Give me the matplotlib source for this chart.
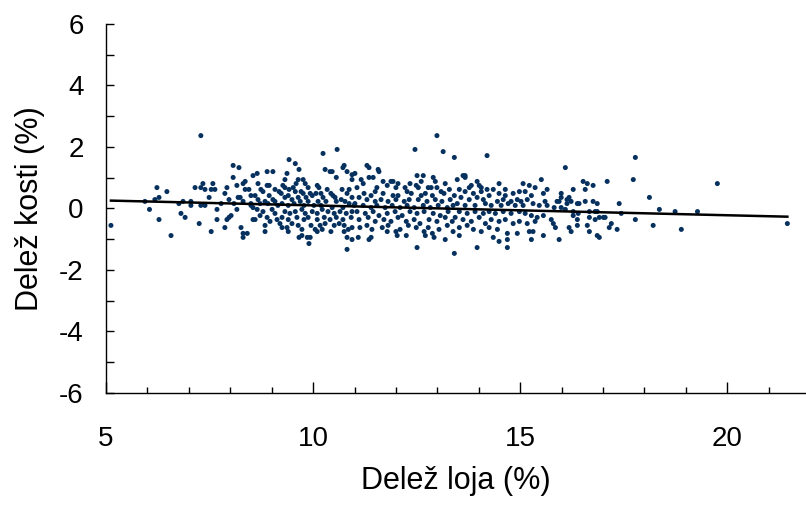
import numpy as np
import matplotlib
matplotlib.use('Agg')
import matplotlib.pyplot as plt
from matplotlib.ticker import MultipleLocator

# meritve: (delez loja %, delez kosti %) po razponih loja
tocke_5_9 = [
    (5.12, -0.55), (7.29, 2.37), (5.94, 0.23), (6.05, -0.03), (6.23, 0.68), (6.28, 0.36),
    (6.18, 0.29), (6.28, -0.36), (6.47, 0.55), (6.57, -0.88), (6.76, 0.16), (6.86, 0.23),
    (6.81, -0.16), (6.91, -0.29), (7.05, 0.23), (7.05, 0.10), (7.15, 0.68), (7.29, 0.68),
    (7.34, 0.81), (7.39, 0.62), (7.29, 0.10), (7.39, 0.10), (7.25, -0.49), (7.49, 0.36),
    (7.54, 0.62), (7.58, 0.81), (7.63, 0.62), (7.54, -0.75), (7.68, -0.03), (7.68, -0.36),
    (7.78, 0.16), (7.87, 0.49), (7.92, 0.68), (7.97, 0.29), (7.87, -0.62), (7.92, -0.36),
    (7.97, -0.29), (8.02, -0.23), (8.07, 1.40), (8.07, 1.01), (8.21, 1.33), (8.16, 0.75),
    (8.09, 0.16), (8.19, 0.36), (8.24, 0.36), (8.16, -0.03), (8.26, -0.62), (8.31, -0.81),
    (8.31, -0.94), (8.41, -0.81), (8.31, 0.81), (8.36, 0.88), (8.31, 0.23), (8.36, 0.62),
    (8.45, 0.62), (8.55, 1.07), (8.50, 0.42), (8.50, 0.16), (8.55, 0.03), (8.55, -0.36),
    (8.50, 0.10),
]
tocke_9_11 = [
    (10.58, 1.92), (10.24, 1.79), (9.42, 1.59), (9.57, 1.46), (10.75, 1.40), (10.72, 1.33),
    (10.82, 1.20), (10.29, 1.27), (10.41, 1.20), (10.46, 1.20), (10.94, 1.10), (8.65, 1.14),
    (8.89, 1.20), (9.03, 1.20), (9.37, 1.14), (9.66, 1.27), (9.32, 0.94), (9.64, 0.94),
    (9.76, 0.94), (9.81, 0.81), (10.56, 1.01), (10.94, 0.94), (8.67, 0.81), (8.89, 0.75),
    (8.94, 0.75), (9.27, 0.75), (9.32, 0.68), (9.52, 0.68), (9.59, 0.81), (9.88, 0.68),
    (10.10, 0.75), (10.14, 0.68), (10.34, 0.62), (8.74, 0.62), (8.79, 0.55), (9.08, 0.62),
    (9.18, 0.55), (9.23, 0.49), (9.42, 0.62), (9.57, 0.55), (9.71, 0.55), (9.76, 0.49),
    (9.93, 0.49), (9.98, 0.42), (10.07, 0.49), (10.19, 0.49), (10.43, 0.49), (10.48, 0.42),
    (10.53, 0.36), (10.70, 0.62), (10.82, 0.49), (10.87, 0.62), (10.94, 0.36), (8.60, 0.42),
    (8.67, 0.29), (8.94, 0.42), (9.03, 0.29), (9.08, 0.23), (9.32, 0.36), (9.40, 0.42),
    (9.49, 0.29), (9.64, 0.36), (9.69, 0.23), (9.83, 0.36), (9.88, 0.23), (10.12, 0.23),
    (10.24, 0.36), (10.31, 0.23), (10.56, 0.23), (10.68, 0.29), (10.77, 0.23), (10.87, 0.16),
    (8.72, 0.16), (8.84, 0.23), (8.91, 0.16), (9.15, 0.10), (9.25, 0.16), (9.40, 0.10),
    (9.54, 0.16), (9.78, 0.10), (10.02, 0.10), (10.19, 0.10), (10.46, 0.03), (10.72, 0.03),
    (10.99, 0.10),
    (8.65, -0.03), (8.79, -0.10), (9.01, -0.03), (9.08, -0.16), (9.32, -0.10), (9.44, -0.16),
    (9.57, -0.10), (9.73, -0.03), (9.81, -0.16), (9.98, -0.10), (10.10, -0.16), (10.22, -0.03),
    (10.36, -0.10), (10.51, -0.16), (10.65, -0.10), (10.80, -0.16), (10.94, -0.10), (8.72, -0.23),
    (8.89, -0.29), (9.13, -0.36), (9.25, -0.29), (9.40, -0.36), (9.61, -0.29), (9.78, -0.36),
    (9.88, -0.29), (10.10, -0.36), (10.27, -0.29), (10.41, -0.36), (10.56, -0.29), (10.72, -0.36),
    (10.92, -0.29), (8.60, -0.36), (8.84, -0.55), (8.96, -0.42), (9.20, -0.49), (9.25, -0.62),
    (9.37, -0.62), (9.49, -0.49), (9.64, -0.55), (9.73, -0.68), (9.95, -0.55), (10.05, -0.68),
    (10.17, -0.55), (10.29, -0.49), (10.51, -0.55), (10.63, -0.49), (10.75, -0.55), (10.85, -0.68),
    (10.94, -0.62), (8.84, -0.75), (9.40, -0.75), (9.66, -0.94), (9.73, -0.88), (9.86, -0.94),
    (9.93, -0.94), (9.90, -1.14), (10.10, -0.75), (10.22, -0.68), (10.43, -0.75), (10.75, -0.75),
    (10.82, -0.94), (10.94, -1.01), (10.82, -1.33),
]
tocke_11_13 = [
    (12.99, 2.37), (12.46, 1.92), (13.14, 1.85), (13.41, 1.66), (11.30, 1.40), (11.35, 1.33),
    (11.57, 1.27), (11.59, 1.20), (11.01, 1.14), (11.35, 1.01), (11.45, 1.01), (12.51, 1.07),
    (12.66, 1.07), (12.90, 1.01), (11.16, 0.94), (11.21, 0.81), (11.69, 0.88), (11.88, 0.88),
    (11.93, 0.88), (12.05, 0.81), (12.34, 0.81), (12.61, 0.88), (12.95, 0.88), (13.19, 0.81),
    (11.06, 0.68), (11.54, 0.68), (11.79, 0.75), (12.00, 0.68), (12.22, 0.68), (12.49, 0.75),
    (12.54, 0.68), (12.78, 0.68), (12.85, 0.68), (12.99, 0.68), (13.09, 0.55), (13.29, 0.62),
    (13.41, 0.42),
    (11.23, 0.49), (11.40, 0.42), (11.50, 0.55), (11.69, 0.49), (11.93, 0.42), (12.05, 0.42),
    (12.27, 0.55), (12.37, 0.49), (12.61, 0.42), (12.71, 0.49), (12.88, 0.42), (13.16, 0.49),
    (11.11, 0.36), (11.30, 0.29), (11.50, 0.23), (11.64, 0.29), (11.81, 0.23), (12.00, 0.29),
    (12.20, 0.23), (12.32, 0.29), (12.54, 0.29), (12.75, 0.23), (12.95, 0.29), (13.11, 0.23),
    (13.31, 0.29),
    (11.01, 0.16), (11.21, 0.10), (11.40, 0.03), (11.54, 0.10), (11.74, 0.03), (11.91, 0.10),
    (12.10, 0.03), (12.27, 0.10), (12.44, 0.03), (12.66, 0.10), (12.83, 0.03), (13.02, 0.10),
    (13.24, 0.03), (13.38, 0.10),
    (11.06, -0.10), (11.26, -0.16), (11.45, -0.10), (11.59, -0.23), (11.79, -0.16), (11.98, -0.10),
    (12.15, -0.23), (12.34, -0.10), (12.51, -0.16), (12.68, -0.10), (12.90, -0.16), (13.07, -0.23),
    (13.26, -0.10), (11.11, -0.36), (11.33, -0.29), (11.50, -0.42), (11.71, -0.36), (11.88, -0.42),
    (12.05, -0.29), (12.25, -0.42), (12.44, -0.36), (12.58, -0.49), (12.80, -0.36), (12.99, -0.42),
    (13.19, -0.29), (13.36, -0.42), (11.13, -0.62), (11.30, -0.55), (11.42, -0.68), (11.67, -0.62),
    (11.81, -0.55), (12.00, -0.75), (12.10, -0.68), (12.30, -0.55), (12.49, -0.62), (12.68, -0.75),
    (12.78, -0.62), (12.88, -0.81), (13.04, -0.68), (13.24, -0.55), (13.38, -0.75), (11.09, -0.94),
    (11.35, -1.01), (11.40, -0.94), (11.79, -0.75), (12.03, -0.88), (12.25, -0.88), (12.71, -0.88),
    (12.92, -0.94), (12.51, -1.27), (13.19, -1.01), (13.41, -1.46),
]
tocke_13_16 = [
    (14.20, 1.72), (13.62, 1.07), (13.67, 1.07), (13.67, 1.01), (13.48, 0.94), (13.82, 0.75),
    (13.77, 0.68), (13.96, 0.88), (14.01, 0.75), (14.06, 0.68), (14.49, 0.81), (14.64, 0.62),
    (15.07, 0.81), (15.22, 0.75), (15.36, 0.68), (15.51, 0.94), (15.65, 0.62), (13.53, 0.62),
    (13.67, 0.55), (13.87, 0.49), (14.06, 0.55), (14.20, 0.62), (14.35, 0.62), (14.49, 0.49),
    (14.64, 0.42), (14.83, 0.49), (14.98, 0.55), (15.12, 0.55), (15.27, 0.42), (15.56, 0.49),
    (13.57, 0.36), (13.77, 0.29), (13.96, 0.36), (14.11, 0.29), (14.25, 0.42), (14.45, 0.23),
    (14.59, 0.29), (14.78, 0.23), (14.93, 0.29), (15.02, 0.23), (15.17, 0.29), (15.31, 0.16),
    (15.60, 0.23), (15.65, 0.10), (15.82, 0.03), (13.48, 0.16), (13.67, 0.10), (13.91, 0.10),
    (14.16, 0.16), (14.30, 0.10), (14.54, 0.10), (14.71, 0.16), (14.88, 0.10), (15.07, 0.10),
    (15.46, 0.10),
    (13.53, -0.10), (13.72, -0.16), (13.91, -0.10), (14.11, -0.16), (14.25, -0.10), (14.40, -0.16),
    (14.59, -0.10), (14.78, -0.16), (14.98, -0.10), (15.12, -0.16), (15.27, -0.23), (15.41, -0.29),
    (15.56, -0.23), (15.75, -0.36), (13.43, -0.29), (13.62, -0.36), (13.82, -0.42), (14.01, -0.29),
    (14.16, -0.49), (14.30, -0.36), (14.49, -0.42), (14.64, -0.36), (14.83, -0.49), (14.98, -0.42),
    (15.17, -0.49), (15.36, -0.42), (15.80, -0.49), (13.53, -0.62), (13.72, -0.55), (13.87, -0.68),
    (14.06, -0.75), (14.25, -0.62), (14.45, -0.68), (14.69, -0.81), (14.93, -0.81), (15.22, -0.75),
    (15.31, -0.75), (15.56, -0.88), (13.53, -0.88), (14.35, -0.94), (14.49, -1.07), (14.69, -1.01),
    (15.27, -1.01), (13.96, -1.27), (14.69, -1.27),
]
tocke_16_22 = [
    (17.78, 1.66), (16.09, 1.33), (17.73, 0.94), (17.10, 0.88), (16.52, 0.88), (16.62, 0.81),
    (16.76, 0.75), (16.57, 0.62), (16.28, 0.62), (15.99, 0.49), (15.99, 0.36), (15.89, 0.23),
    (15.94, 0.23), (16.18, 0.36), (16.13, 0.29), (16.23, 0.23), (16.13, 0.16), (16.38, 0.16),
    (16.42, 0.16), (16.57, 0.23), (16.76, 0.23), (16.86, 0.16), (17.39, 0.16), (18.12, 0.36),
    (15.99, 0.03), (16.09, -0.03), (16.28, -0.10), (16.40, -0.16), (16.67, -0.10), (16.81, -0.10),
    (16.86, -0.10), (17.44, -0.16), (16.28, -0.23), (16.67, -0.29), (16.81, -0.36), (16.91, -0.29),
    (17.01, -0.29), (17.05, -0.29), (17.78, -0.36), (16.38, -0.36), (16.38, -0.55), (15.85, -0.62),
    (16.18, -0.62), (16.23, -0.75), (16.62, -0.55), (16.67, -0.75), (16.86, -0.88), (16.91, -0.94),
    (17.15, -0.62), (17.20, -0.49), (17.34, -0.68), (18.21, -0.55), (15.94, -1.01),
    (19.76, 0.81), (18.36, -0.03), (18.74, -0.10), (19.28, -0.10), (18.89, -0.68), (21.45, -0.49),
]

# linearna regresija kosti na loj
fit_intercept = 0.42
fit_slope = -0.032

tocke = np.array(tocke_5_9 + tocke_9_11 + tocke_11_13 + tocke_13_16 + tocke_16_22)
delez_loja = tocke[:, 0]
delez_kosti = tocke[:, 1]

plt.rcParams['font.family'] = ['Liberation Sans', 'DejaVu Sans']
plt.rcParams['axes.unicode_minus'] = False

fig = plt.figure(figsize=(8.06, 5.05), dpi=100)
ax = fig.add_axes([0.1315, 0.2218, 0.8685, 0.7307])

ax.scatter(delez_loja, delez_kosti, s=13, color='#06305e', edgecolors='none', zorder=2)

xl = np.array([delez_loja.min(), delez_loja.max()])
ax.plot(xl, fit_intercept + fit_slope * xl, color='black', lw=1.8, zorder=3)

ax.set_xlim(5, 21.9)
ax.set_ylim(-6, 6)
ax.xaxis.set_major_locator(MultipleLocator(5))
ax.xaxis.set_minor_locator(MultipleLocator(1))
ax.yaxis.set_major_locator(MultipleLocator(2))
ax.yaxis.set_minor_locator(MultipleLocator(1))

for s in ['top', 'right']:
    ax.spines[s].set_visible(False)
for s in ['left', 'bottom']:
    ax.spines[s].set_linewidth(1.0)

ax.tick_params(axis='x', which='major', direction='in', length=8, width=1, pad=24, labelsize=20)
ax.tick_params(axis='x', which='minor', direction='in', length=4.5, width=1)
ax.tick_params(axis='y', which='both', direction='in', length=6, width=1, pad=16, labelsize=20)

ax.set_xlabel('Delež loja (%)', fontsize=22, labelpad=10)
ax.set_ylabel('Delež kosti (%)', fontsize=22, labelpad=10)

fig.savefig('out.png', dpi=100)
